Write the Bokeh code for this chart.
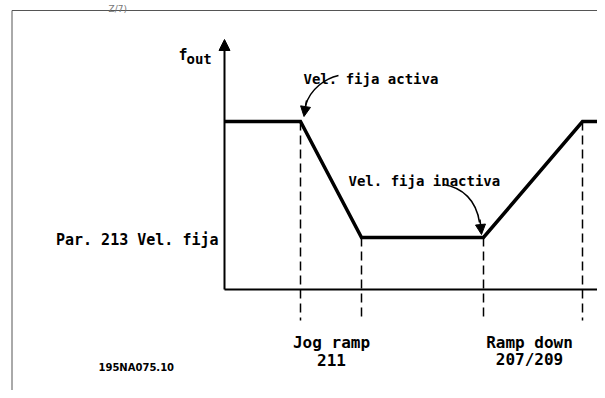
from bokeh.plotting import figure
from bokeh.models import Range1d, Arrow, NormalHead
from bokeh.core.properties import value
from bokeh.embed import file_html
from bokeh.resources import INLINE

# ---- data (time units on x, frequency units on y; axis origin at 0,0) ----
t_profile = [0, 76, 137, 259, 358, 380]          # time breakpoints of output frequency
f_profile = [168, 168, 52, 52, 168, 168]          # output frequency at breakpoints
f_high = 168
f_jog = 52
t_events = [76, 137, 259, 358]                   # dashed marker times
f_events = [168, 52, 52, 168]
t_marker_bottom = -31
f_axis_top = 250
t_axis_end = 380

# annotation label positions
lbl_left_x = [79, 124]
lbl_left_y = [211, 109]
lbl_left_text = ["Vel. fija activa", "Vel. fija inactiva"]
par_label = "Par. 213 Vel. fija"
time_labels_x = [107, 107, 305, 305]
time_labels_y = [-53, -70, -53, -70]
time_labels = ["Jog ramp", "211", "Ramp down", "207/209"]
fig_id = "195NA075.10"
page_ref = "Z/7)"

# curved leader arrows (bezier start, controls, end)
bz_x0 = [114, 219]
bz_y0 = [214, 105]
bz_cx0 = [101, 238]
bz_cy0 = [211, 102]
bz_cx1 = [86, 252]
bz_cy1 = [201, 89]
bz_x1 = [81, 255]
bz_y1 = [184, 67]
head_start_x = [82, 255.5]
head_start_y = [189, 70]
head_end_x = [79.5, 257]
head_end_y = [173, 55]

FONT = value("DejaVu Sans Mono")

p = figure(width=597, height=390, output_backend="svg", toolbar_location=None,
           x_range=Range1d(-224, 373), y_range=Range1d(-101, 289),
           min_border=0, outline_line_color=None)
p.axis.visible = False
p.grid.visible = False
p.background_fill_color = "white"
p.border_fill_color = "white"

# frame of the page
p.line([-212.5, -212.5, 385], [-101, 279, 279], line_color="#555555", line_width=1)
p.text(x=[-116], y=[281], text=[page_ref], text_font=value("DejaVu Sans"),
       text_font_size="9px", text_color="#777777", text_baseline="alphabetic")

# axes
p.line([0, t_axis_end], [0, 0], line_color="black", line_width=2)
p.add_layout(Arrow(x_start=0, y_start=0, x_end=0, y_end=f_axis_top, line_width=2,
                   line_color="black",
                   end=NormalHead(size=11, fill_color="black", line_color="black", line_width=1)))

# dashed event markers
for te, fe in zip(t_events, f_events):
    p.line([te, te], [fe, t_marker_bottom], line_color="black", line_width=1.5,
           line_dash="9 5")

# output frequency profile
p.line(t_profile, f_profile, line_color="black", line_width=3.5, line_join="miter")

# curved leader arrows
p.bezier(x0=bz_x0, y0=bz_y0, x1=bz_x1, y1=bz_y1, cx0=bz_cx0, cy0=bz_cy0,
         cx1=bz_cx1, cy1=bz_cy1, line_color="black", line_width=1.5)
for xs, ys, xe, ye in zip(head_start_x, head_start_y, head_end_x, head_end_y):
    p.add_layout(Arrow(x_start=xs, y_start=ys, x_end=xe, y_end=ye, line_width=1.5,
                       line_color="black",
                       end=NormalHead(size=10, fill_color="black", line_color="black",
                                      line_width=1)))

# texts
p.text(x=[-46], y=[235], text=["f"], text_font=FONT, text_font_size="15px",
       text_font_style="bold", text_baseline="alphabetic")
p.text(x=[-38], y=[231], text=["out"], text_font=FONT, text_font_size="14px",
       text_font_style="bold", text_baseline="alphabetic")
p.text(x=lbl_left_x, y=lbl_left_y, text=lbl_left_text, text_font=FONT,
       text_font_size="14px", text_font_style="bold", text_baseline="alphabetic")
p.text(x=[-6], y=[f_jog - 2], text=[par_label], text_font=FONT, text_font_size="15px",
       text_font_style="bold", text_align="right", text_baseline="alphabetic")
p.text(x=time_labels_x, y=time_labels_y, text=time_labels, text_font=FONT,
       text_font_size="16px", text_font_style="bold", text_align="center",
       text_baseline="alphabetic")
p.text(x=[-126], y=[-78], text=[fig_id], text_font=value("DejaVu Sans"),
       text_font_size="10px", text_font_style="bold", text_baseline="alphabetic")

open("out.html", "w").write(file_html(p, INLINE))
